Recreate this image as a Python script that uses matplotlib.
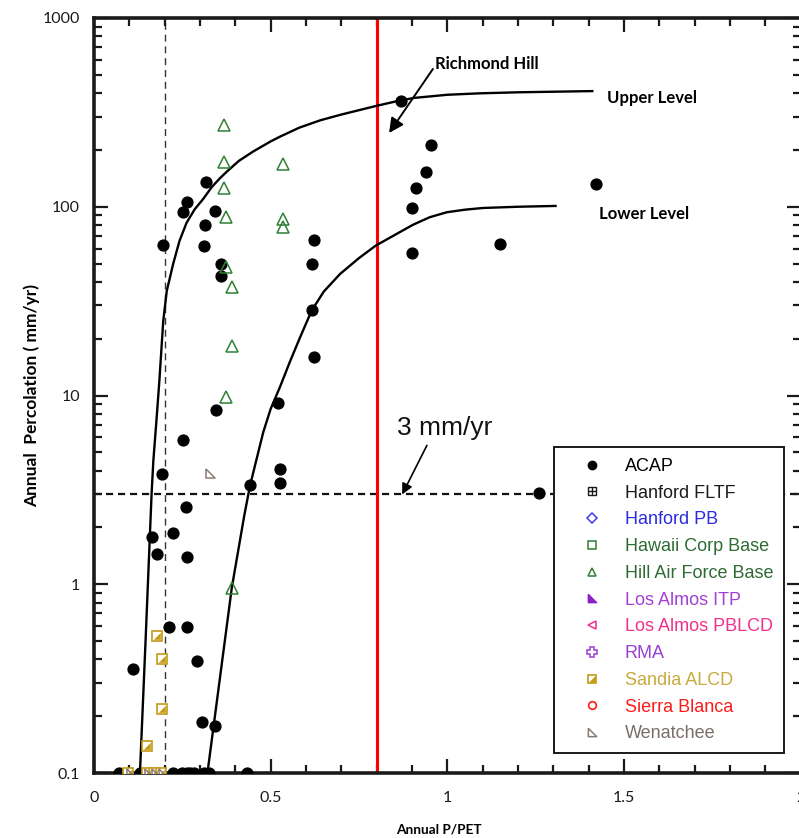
import matplotlib
matplotlib.use("Agg")
import matplotlib.pyplot as plt
from matplotlib.lines import Line2D
from matplotlib.legend_handler import HandlerTuple

# ---------------- data ----------------
acap_x = [0.87, 0.955, 0.94, 0.91, 0.90, 0.90, 1.15, 1.42, 1.26,
          0.195, 0.263, 0.253, 0.317, 0.343, 0.314, 0.311, 0.358, 0.358,
          0.622, 0.616, 0.616, 0.622, 0.522, 0.344, 0.253, 0.192,
          0.525, 0.525, 0.441, 0.260, 0.165, 0.223, 0.177, 0.264,
          0.213, 0.264, 0.109, 0.292, 0.305, 0.341,
          0.072, 0.13, 0.224, 0.25, 0.262, 0.272, 0.282, 0.31, 0.324, 0.432]
acap_y = [364, 213, 152, 126, 99, 57, 63.5, 132, 3.03,
          63, 106, 94, 136, 94.4, 80, 62, 49.8, 43.1,
          66.9, 49.8, 28.4, 15.9, 9.15, 8.33, 5.78, 3.85,
          4.09, 3.44, 3.37, 2.56, 1.79, 1.87, 1.45, 1.39,
          0.594, 0.594, 0.355, 0.391, 0.187, 0.178,
          0.1, 0.1, 0.1, 0.1, 0.1, 0.1, 0.1, 0.1, 0.1, 0.1]

hill_x = [0.368, 0.368, 0.368, 0.373, 0.534, 0.534, 0.534, 0.373, 0.391, 0.391, 0.373, 0.391]
hill_y = [271, 172, 125, 88.5, 169, 86, 77.7, 47.7, 37.4, 18.2, 9.8, 0.96]

sandia_x = [0.177, 0.193, 0.193, 0.149, 0.097, 0.15, 0.17, 0.19]
sandia_y = [0.535, 0.404, 0.219, 0.139, 0.1, 0.1, 0.1, 0.1]

wen_x = [0.328, 0.105, 0.155, 0.175, 0.195]
wen_y = [3.87, 0.1, 0.1, 0.1, 0.1]

upper_x = [0.130, 0.146, 0.163, 0.168, 0.177, 0.185, 0.196, 0.206, 0.224, 0.242,
           0.262, 0.285, 0.309, 0.333, 0.357, 0.375, 0.41, 0.45, 0.50, 0.526,
           0.58, 0.640, 0.70, 0.798, 0.85, 0.904, 1.0, 1.092, 1.2, 1.41]
upper_y = [0.1, 0.506, 3.03, 4.53, 7.5, 12.0, 24.9, 35.9, 49.8, 66,
           82.3, 97, 110, 127, 142, 153, 175, 196, 222, 235,
           262, 287, 308, 342, 360, 377, 392, 399, 404, 410]

lower_x = [0.321, 0.390, 0.425, 0.441, 0.46, 0.479, 0.50, 0.526, 0.555, 0.583, 0.616,
           0.65, 0.696, 0.75, 0.797, 0.866, 0.904, 0.95, 0.998, 1.05, 1.1,
           1.2, 1.306]
lower_y = [0.1, 0.96, 2.3, 3.3, 4.6, 6.4, 8.5, 11.07, 15.2, 20.3, 28.2,
           35.5, 44.0, 53.5, 62.2, 73.5, 80.5, 88, 93.5, 96.5, 98.5,
           100, 101]

x_ticks = [0, 0.5, 1, 1.5, 2]
x_tick_labels = ["0", "0.5", "1", "1.5", "2"]
y_ticks = [0.1, 1, 10, 100, 1000]
y_tick_labels = ["0.1", "1", "10", "100", "1000"]

legend_labels = ["ACAP", "Hanford FLTF", "Hanford PB", "Hawaii Corp Base",
                 "Hill Air Force Base", "Los Almos ITP", "Los Almos PBLCD",
                 "RMA", "Sandia ALCD", "Sierra Blanca", "Wenatchee"]
legend_colors = ["#000000", "#1a1a1a", "#2a2ae0", "#2e6b34", "#2e6b34",
                 "#a23fd6", "#f0308c", "#9a3ed6", "#c9aa3c", "#ff1a1a", "#7a6e6a"]

threshold = 3.0
pet_line = 0.8
dash_x = 0.2

# ---------------- figure ----------------
fig = plt.figure(figsize=(7.99, 8.38), dpi=100)
ax = fig.add_axes([94 / 799, 65 / 838, 706.8 / 799, 755 / 838])
ax.set_yscale("log")
ax.set_xlim(0, 2)
ax.set_ylim(0.1, 1000)

green = "#2f7f35"
gold = "#c39a12"
wen_c = "#8c7b75"
rtri = [(-1, 1), (-1, -1), (1, -1), (-1, 1)]
lrtri = [(1, 1), (1, -1), (-1, -1), (1, 1)]

ax.axvline(dash_x, color="#333333", lw=1.0, ls=(0, (5, 3.5)), zorder=1)
ax.axhline(threshold, color="#111111", lw=1.6, ls=(0, (3.2, 2.2)), zorder=1)
ax.axvline(pet_line, color="#ff0000", lw=2.2, zorder=2)

ax.plot(upper_x, upper_y, color="black", lw=1.7, zorder=2, solid_joinstyle="round")
ax.plot(lower_x, lower_y, color="black", lw=1.7, zorder=2, solid_joinstyle="round")

ax.plot(acap_x, acap_y, ls="none", marker="o", ms=7.8, color="black", zorder=4)
ax.plot(hill_x, hill_y, ls="none", marker="^", ms=8, mfc="none", mec=green, mew=1.1, zorder=4)
ax.plot(sandia_x, sandia_y, ls="none", marker="s", ms=7, mfc="white", mec=gold, mew=1.2, zorder=4)
ax.plot(sandia_x, sandia_y, ls="none", marker=lrtri, ms=4.5, mfc=gold, mec=gold, mew=0.3, zorder=5)
ax.plot(wen_x, wen_y, ls="none", marker=rtri, ms=6.5, mfc="none", mec=wen_c, mew=1.1, zorder=5)

# axes styling
for s in ax.spines.values():
    s.set_linewidth(2.6)
    s.set_color("#1a1a1a")
ax.set_xticks(x_ticks)
ax.set_xticklabels(x_tick_labels)
ax.set_xticks([i / 10 for i in range(21)], minor=True)
ax.set_yticks(y_ticks)
ax.set_yticklabels(y_tick_labels)
ax.yaxis.set_minor_locator(matplotlib.ticker.LogLocator(base=10, subs=range(2, 10)))
ax.yaxis.set_minor_formatter(matplotlib.ticker.NullFormatter())
ax.tick_params(which="both", direction="in", top=True, right=True, width=1.6, color="#1a1a1a")
ax.tick_params(which="major", length=10)
ax.tick_params(which="minor", length=6)
ax.tick_params(axis="x", which="major", pad=13)
ax.tick_params(axis="y", which="major", pad=10)
for lab in ax.get_xticklabels() + ax.get_yticklabels():
    lab.set_fontfamily("Lato")
    lab.set_fontsize(11.5)
    lab.set_color("#1a1a1a")

ax.set_xlabel("Annual P/PET", fontfamily="Lato", fontweight="bold", fontsize=9.8)
ax.xaxis.set_label_coords(0.488, -0.067)
ax.set_ylabel("Annual  Percolation ( mm/yr)", fontfamily="Lato", fontweight="bold", fontsize=12.5)
ax.yaxis.set_label_coords(-0.076, 0.5)

# annotations
ax.text(0.965, 571, "Richmond Hill", fontfamily="Lato", fontweight="bold", fontsize=12,
        va="center", ha="left")
ax.annotate("", xy=(0.835, 246), xytext=(0.959, 537),
            arrowprops=dict(arrowstyle="-|>", color="black", lw=1.4, mutation_scale=22,
                            shrinkA=0, shrinkB=0))
ax.text(1.452, 378, "Upper Level", fontfamily="Lato", fontweight="bold", fontsize=12,
        va="center", ha="left")
ax.text(1.429, 92, "Lower Level", fontfamily="Lato", fontweight="bold", fontsize=12,
        va="center", ha="left")
ax.text(0.857, 6.69, "3 mm/yr", fontfamily="Liberation Sans", fontsize=19,
        va="center", ha="left", color="#111111")
ax.annotate("", xy=(0.872, 2.99), xytext=(0.942, 5.44),
            arrowprops=dict(arrowstyle="-|>", color="black", lw=1.2, mutation_scale=16,
                            shrinkA=0, shrinkB=0))

# legend
h_acap = Line2D([], [], ls="none", marker="o", ms=6, color="black")
h_fltf = (Line2D([], [], ls="none", marker="s", ms=6, mfc="none", mec="#1a1a1a", mew=1),
          Line2D([], [], ls="none", marker="+", ms=6, mec="#1a1a1a", mew=1))
h_pb = Line2D([], [], ls="none", marker="D", ms=5, mfc="none", mec="#3a3ae8", mew=1.1)
h_haw = Line2D([], [], ls="none", marker="s", ms=6, mfc="none", mec=green, mew=1.1)
h_hill = Line2D([], [], ls="none", marker="^", ms=6, mfc="none", mec=green, mew=1.1)
h_itp = Line2D([], [], ls="none", marker=rtri, ms=6, mfc="#8a1fc8", mec="#8a1fc8")
h_pbl = Line2D([], [], ls="none", marker="<", ms=6, mfc="none", mec="#f0308c", mew=1.1)
h_rma = Line2D([], [], ls="none", marker="P", ms=7, mfc="none", mec="#9a3ed6", mew=1.1)
h_san = (Line2D([], [], ls="none", marker="s", ms=6, mfc="white", mec=gold, mew=1.2),
         Line2D([], [], ls="none", marker=lrtri, ms=4, mfc=gold, mec=gold, mew=0.3))
h_sb = Line2D([], [], ls="none", marker="o", ms=5.5, mfc="none", mec="#ff1a1a", mew=1.2)
h_wen = Line2D([], [], ls="none", marker=rtri, ms=6, mfc="none", mec=wen_c, mew=1.1)
handles = [h_acap, h_fltf, h_pb, h_haw, h_hill, h_itp, h_pbl, h_rma, h_san, h_sb, h_wen]

leg = ax.legend(handles, legend_labels, loc="upper left", bbox_to_anchor=(0.651, 0.4318),
                borderaxespad=0, frameon=True, fancybox=False, framealpha=1,
                edgecolor="#1a1a1a", prop={"family": "Liberation Sans", "size": 13},
                handlelength=3.0, handletextpad=0.3, borderpad=0.6, labelspacing=0.54,
                handler_map={tuple: HandlerTuple(ndivide=1, pad=0)})
leg.get_frame().set_linewidth(1.4)
leg.set_zorder(6)
for t, c in zip(leg.get_texts(), legend_colors):
    t.set_color(c)

fig.savefig("out.png", dpi=100)
